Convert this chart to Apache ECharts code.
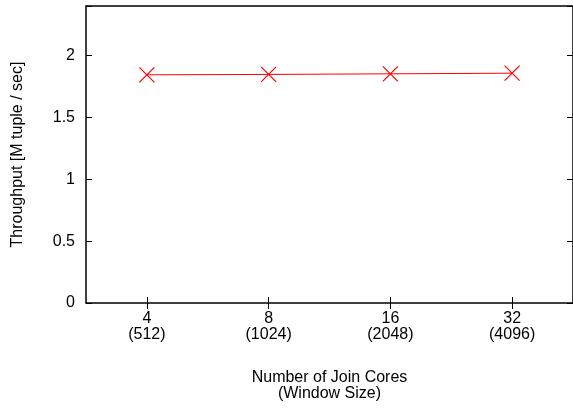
<!DOCTYPE html>
<html><head><meta charset="utf-8">
<script src="https://cdn.jsdelivr.net/npm/echarts@6/dist/echarts.min.js"></script>
<style>html,body{margin:0;padding:0;background:#fff}#c{width:573px;height:409px}</style>
</head><body><div id="c"></div>
<script>
const categories = ['4\n(512)', '8\n(1024)', '16\n(2048)', '32\n(4096)'];
const throughput = [1.844, 1.847, 1.852, 1.857];
const yTicks = [0, 0.5, 1, 1.5, 2];
const xTitle = 'Number of Join Cores\n(Window Size)';
const yTitle = 'Throughput [M tuple / sec]';

const font = 'Liberation Sans';
const chart = echarts.init(document.getElementById('c'), null, {renderer: 'canvas'});
chart.setOption({
  animation: false,
  backgroundColor: '#fff',
  grid: {left: 86, top: 6, width: 488, height: 297, show: true, borderColor: '#000', borderWidth: 1.5, containLabel: false},
  xAxis: [{
    type: 'category', data: categories, position: 'bottom',
    axisLine: {show: false},
    axisTick: {show: true, inside: true, alignWithLabel: true, length: 6, lineStyle: {color: '#000'}},
    axisLabel: {color: '#000', fontFamily: font, fontSize: 16, lineHeight: 16, margin: 8},
    name: xTitle, nameLocation: 'middle', nameGap: 67,
    nameTextStyle: {color: '#000', fontFamily: font, fontSize: 16, lineHeight: 16}
  }, {
    type: 'category', data: categories, position: 'top',
    axisLine: {show: false},
    axisTick: {show: true, inside: true, alignWithLabel: true, length: 6, lineStyle: {color: '#000'}},
    axisLabel: {show: false}
  }],
  yAxis: [{
    type: 'value', min: 0, max: 2.4, interval: 0.5, position: 'left',
    axisLine: {show: false}, splitLine: {show: false},
    axisTick: {show: true, inside: true, length: 6, lineStyle: {color: '#000'}},
    axisLabel: {color: '#000', fontFamily: font, fontSize: 16, margin: 11,
      formatter: v => yTicks.includes(v) ? String(v) : ''},
    name: yTitle, nameLocation: 'middle', nameGap: 60, nameRotate: 90,
    nameTextStyle: {color: '#000', fontFamily: font, fontSize: 16}
  }, {
    type: 'value', min: 0, max: 2.4, interval: 0.5, position: 'right',
    axisLine: {show: false}, splitLine: {show: false},
    axisTick: {show: true, inside: true, length: 6, lineStyle: {color: '#000'}},
    axisLabel: {show: false}
  }],
  series: [{
    type: 'line', data: throughput, xAxisIndex: 0, yAxisIndex: 0,
    symbol: 'path://M0,0L10,10M10,0L0,10', symbolSize: 15,
    showAllSymbol: true,
    lineStyle: {color: '#ff0000', width: 1},
    itemStyle: {color: 'rgba(0,0,0,0)', borderColor: '#ff0000', borderWidth: 1.2},
    emphasis: {disabled: true}
  }]
});
</script></body></html>
